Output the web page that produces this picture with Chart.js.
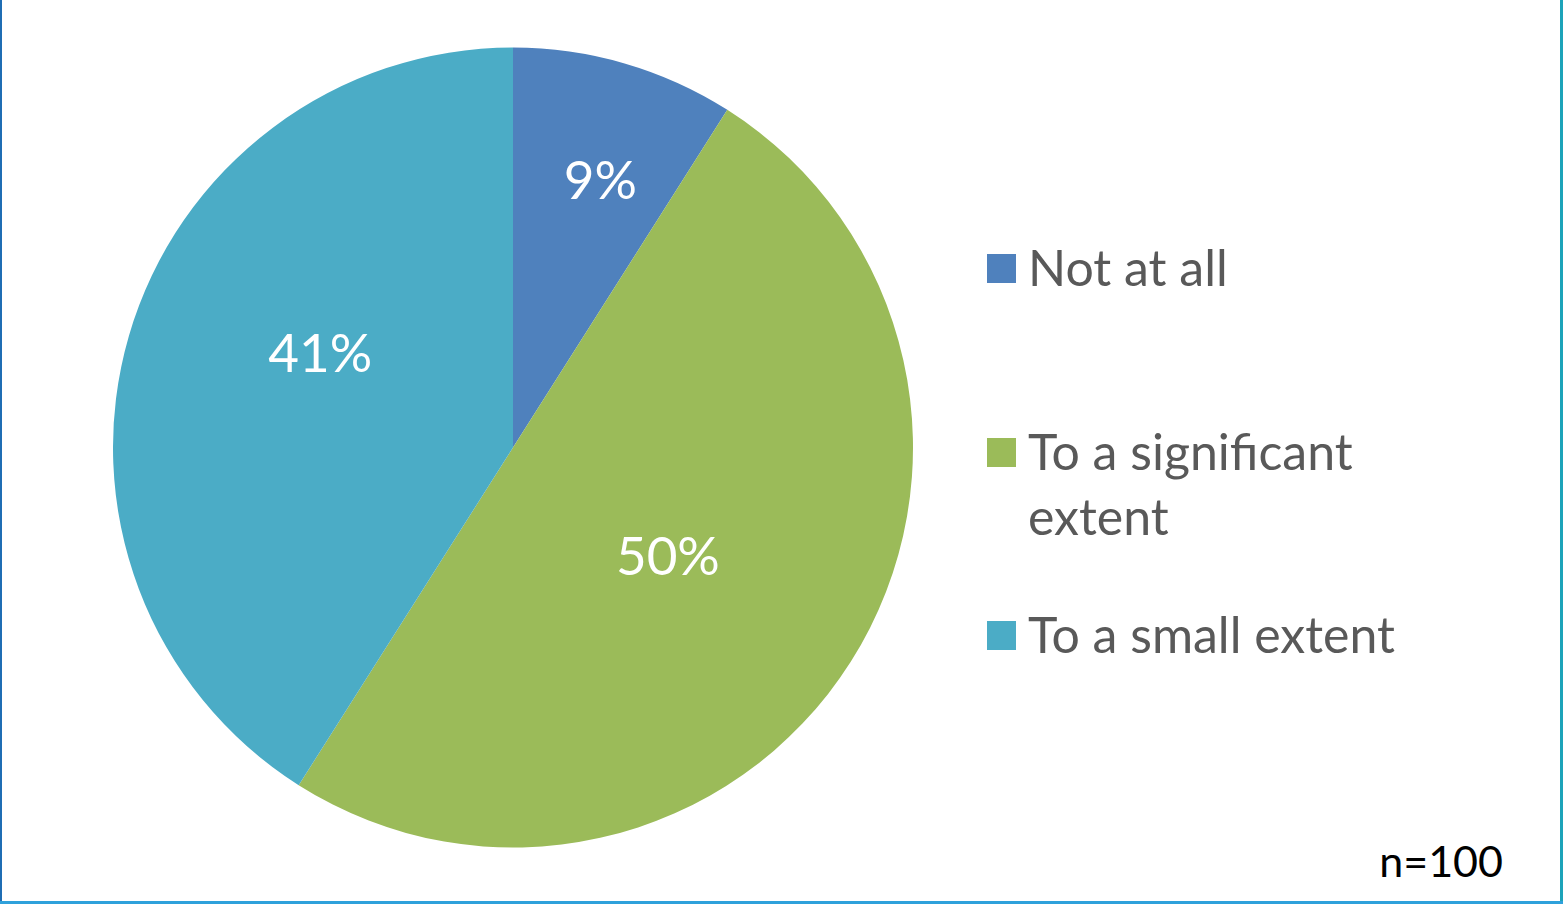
<!DOCTYPE html>
<html lang="en">
<head>
  <meta charset="UTF-8">
  <title>Extent pie</title>
  <script src="https://cdn.jsdelivr.net/npm/chart.js"></script>
  <style>
    html, body { margin:0; padding:0; }
    body { width:1563px; height:904px; position:relative; overflow:hidden; background:#fff; font-family:Lato, "Open Sans", sans-serif; }
    .edge-left { position:absolute; left:0; top:0; width:2px; height:904px; background:#1f6db4; }
    .edge-right { position:absolute; right:0; top:0; width:3px; height:904px; background:#1ca3b9; }
    .edge-bottom { position:absolute; left:0; bottom:0; width:1563px; height:3px; background:#2fa1db; }
    #pieBox { position:absolute; left:113px; top:47px; width:800px; height:801px; }
    .legend-item { position:absolute; left:987px; width:440px; color:#595959; font-size:50px; line-height:65px; }
    .legend-item .box { position:absolute; left:0; top:19px; width:29px; height:29px; }
    .legend-item .txt { margin-left:41px; width:385px; }
    #note { position:absolute; right:60px; top:839px; font-size:43px; line-height:43px; color:#000; }
  </style>
</head>
<body>
  <div class="edge-left"></div>
  <div class="edge-right"></div>
  <div class="edge-bottom"></div>
  <div id="pieBox"><canvas id="pieChart"></canvas></div>
  <div id="legend"></div>
  <div id="note">n=100</div>
  <script>
    // values
    const labels = ['Not at all', 'To a significant extent', 'To a small extent'];
    const shares = [9, 50, 41];
    const colors = ['#4f81bd', '#9bbb59', '#4bacc6'];

    // label placement inside each slice: [radius fraction, angle nudge in degrees]
    const labelPlace = [[0.70, 2], [0.475, 3], [0.535, 9.5]];
    const legendTops = [235, 419, 602];

    const sliceLabels = {
      id: 'sliceLabels',
      afterDatasetsDraw(chart) {
        const ctx = chart.ctx;
        const arcs = chart.getDatasetMeta(0).data;
        ctx.save();
        ctx.fillStyle = '#ffffff';
        ctx.font = '53px Lato';
        ctx.textAlign = 'center';
        ctx.textBaseline = 'middle';
        arcs.forEach((arc, i) => {
          const p = arc.getProps(['x', 'y', 'startAngle', 'endAngle', 'outerRadius'], true);
          const ang = (p.startAngle + p.endAngle) / 2 + labelPlace[i][1] * Math.PI / 180;
          const r = p.outerRadius * labelPlace[i][0];
          ctx.fillText(shares[i] + '%', p.x + r * Math.cos(ang), p.y + r * Math.sin(ang));
        });
        ctx.restore();
      }
    };

    new Chart(document.getElementById('pieChart'), {
      type: 'pie',
      data: {
        labels: labels,
        datasets: [{
          data: shares,
          backgroundColor: colors,
          borderWidth: 0,
          hoverOffset: 0
        }]
      },
      options: {
        responsive: true,
        maintainAspectRatio: false,
        animation: false,
        events: [],
        layout: { padding: 0 },
        plugins: {
          legend: { display: false },
          tooltip: { enabled: false }
        }
      },
      plugins: [sliceLabels]
    });

    // legend on the right
    const legend = document.getElementById('legend');
    labels.forEach((name, i) => {
      const item = document.createElement('div');
      item.className = 'legend-item';
      item.style.top = legendTops[i] + 'px';
      item.innerHTML = `<span class="box" style="background:${colors[i]}"></span><div class="txt">${name}</div>`;
      legend.appendChild(item);
    });
  </script>
</body>
</html>
